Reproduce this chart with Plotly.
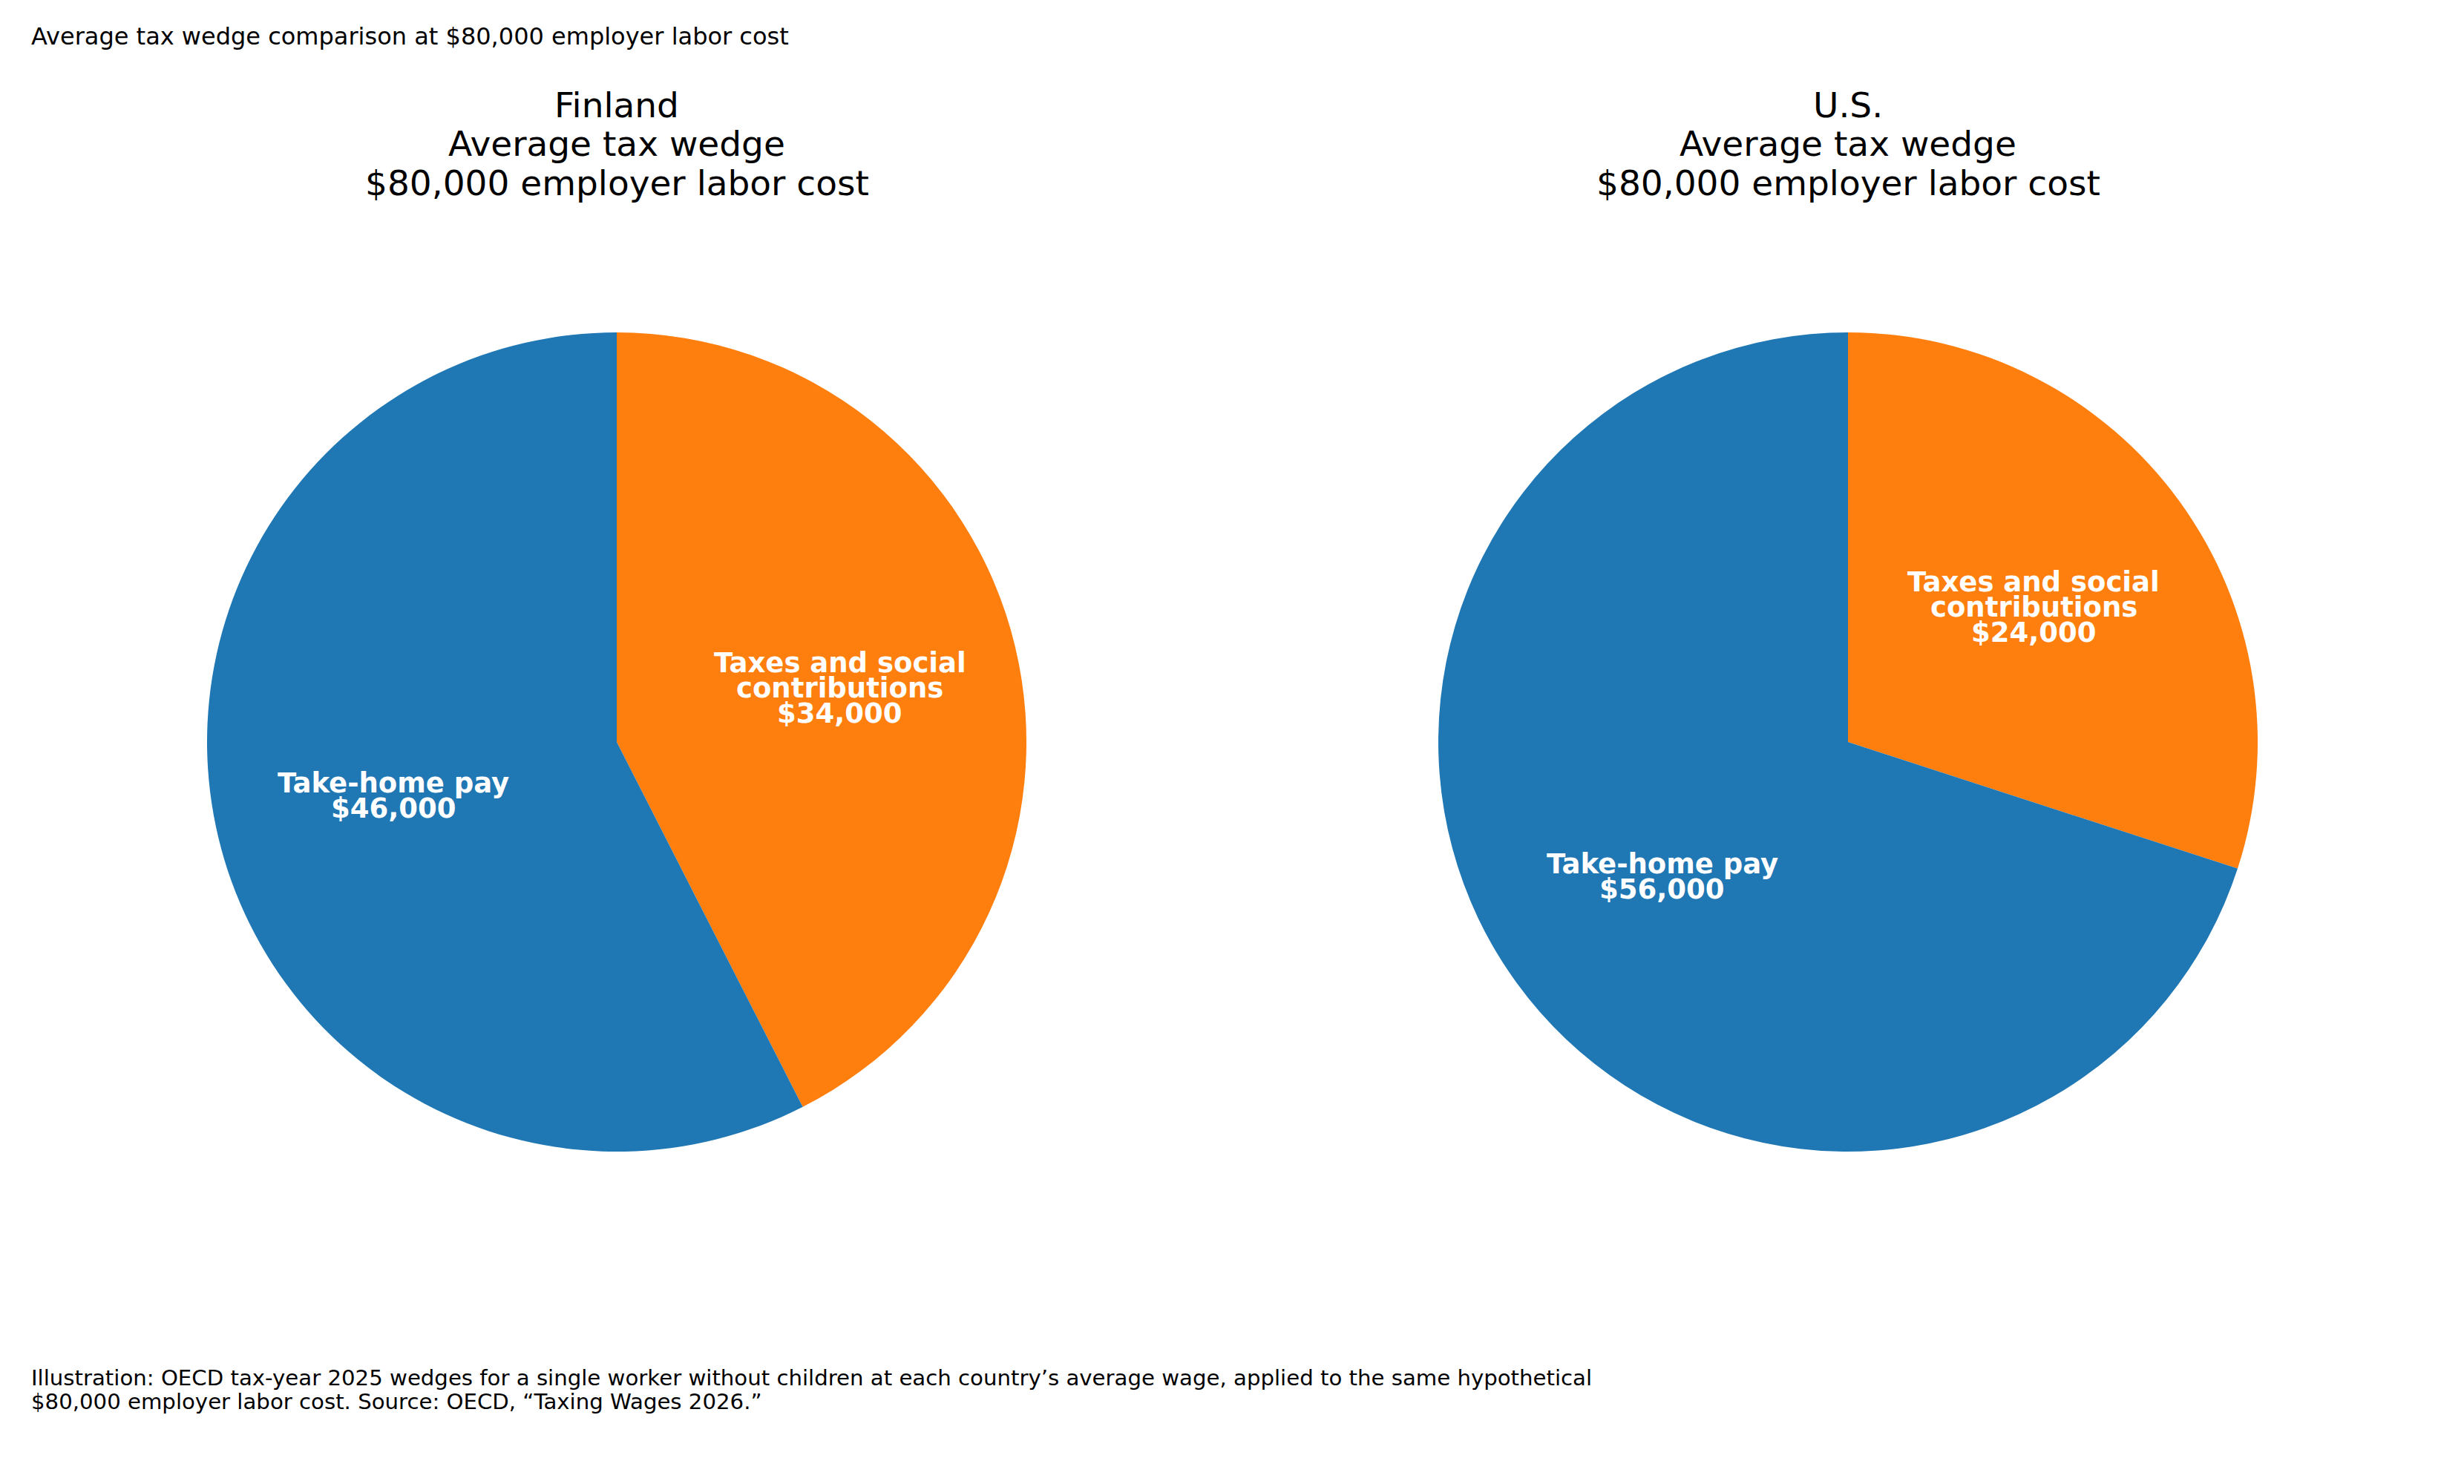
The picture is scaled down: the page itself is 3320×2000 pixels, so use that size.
import numpy as np
import plotly.graph_objects as go

# data
countries = ["Finland", "U.S."]
slice_labels = ["Take-home pay", "Taxes and social<br>contributions"]
take_home = [46000, 56000]
taxes = [34000, 24000]
colors = ["#1f77b4", "#ff7f0e"]

W, H = 3320, 2000
FONT = "DejaVu Sans"

# pie geometry (pixels, page has an 8px body margin)
centers_x = [823, 2482]
center_y = 992
radius = 552
label_dist = 0.56

fig = go.Figure()
annotations = []


def px_to_paper(x, y):
    return x / W, 1 - y / H


for i, country in enumerate(countries):
    vals = [take_home[i], taxes[i]]
    cx = centers_x[i]
    # plotly puts the first slice clockwise of 12 o'clock, so feed the
    # slices reversed to get take-home pay going counterclockwise from the top
    fig.add_trace(go.Pie(
        labels=["Taxes and social contributions", "Take-home pay"],
        values=vals[::-1],
        sort=False,
        direction="clockwise",
        rotation=0,
        marker=dict(colors=colors[::-1], line=dict(width=0)),
        textinfo="none",
        hoverinfo="label+value",
        showlegend=False,
        domain=dict(x=[(cx - radius) / W, (cx + radius) / W],
                    y=[1 - (center_y + radius) / H, 1 - (center_y - radius) / H]),
    ))

    # titles, one annotation per line
    title_lines = [country, "Average tax wedge", "$80,000 employer labor cost"]
    for j, line in enumerate(title_lines):
        x, y = px_to_paper(cx, 134 + j * 52)
        annotations.append(dict(text=line, x=x, y=y, xref="paper", yref="paper",
                                xanchor="center", yanchor="middle", showarrow=False,
                                font=dict(family=FONT, size=47, color="black")))

    # slice labels placed at mid angle of each wedge (ccw from top)
    total = sum(vals)
    start = 90.0
    for k, v in enumerate(vals):
        sweep = 360.0 * v / total
        mid = np.radians(start + sweep / 2)
        start += sweep
        lx = cx + label_dist * radius * np.cos(mid)
        ly = center_y - label_dist * radius * np.sin(mid)
        lines = slice_labels[k].split("<br>") + ["${:,.0f}".format(v)]
        n = len(lines)
        for j, line in enumerate(lines):
            x, y = px_to_paper(lx, ly + (j - (n - 1) / 2) * 34)
            annotations.append(dict(text="<b>" + line + "</b>", x=x, y=y,
                                    xref="paper", yref="paper",
                                    xanchor="center", yanchor="middle", showarrow=False,
                                    font=dict(family=FONT, size=37, color="white")))

# figure title (top-left)
x, y = px_to_paper(32, 41)
annotations.append(dict(text="Average tax wedge comparison at $80,000 employer labor cost",
                        x=x, y=y, xref="paper", yref="paper", xanchor="left", yanchor="middle",
                        showarrow=False, font=dict(family=FONT, size=32, color="black")))

# footer note
footer = ["Illustration: OECD tax-year 2025 wedges for a single worker without children at each country\u2019s average wage, applied to the same hypothetical",
          "$80,000 employer labor cost. Source: OECD, \u201cTaxing Wages 2026.\u201d"]
for j, line in enumerate(footer):
    x, y = px_to_paper(32, 1849 + j * 32)
    annotations.append(dict(text=line, x=x, y=y, xref="paper", yref="paper",
                            xanchor="left", yanchor="middle", showarrow=False,
                            font=dict(family=FONT, size=29.2, color="black")))

fig.update_layout(
    width=W, height=H,
    autosize=False,
    margin=dict(l=0, r=0, t=0, b=0),
    paper_bgcolor="white",
    plot_bgcolor="white",
    annotations=annotations,
)

fig.write_html("out.html")
